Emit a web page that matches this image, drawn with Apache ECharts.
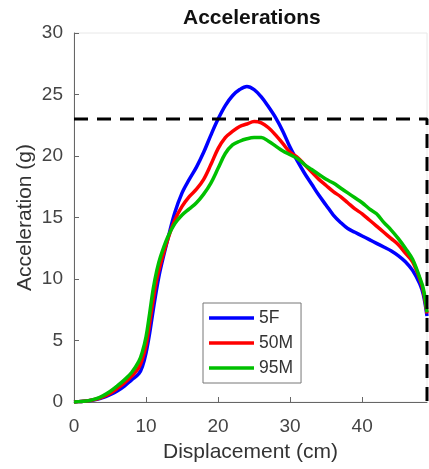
<!DOCTYPE html>
<html>
<head>
<meta charset="utf-8">
<script src="https://cdn.jsdelivr.net/npm/echarts@6/dist/echarts.min.js"></script>
<style>html,body{margin:0;padding:0;background:#fff;}#chart{width:429px;height:469px;}</style>
</head>
<body>
<div id="chart"></div>
<script>
// Displacement samples (cm)
var displacement = [0,1,2,3,4,5,6,7,8,9,9.5,10,10.5,11,11.5,12,13,14,15,16,17,18,19,20,21,22,23,24,25,26,27,28,29,30,31,32,33,34,35,36,37,38,39,40,41,42,43,44,45,46,47,48,48.5,49];
// Accelerations (g)
var accel5F  = [0,0.05,0.1,0.2,0.35,0.6,0.9,1.3,1.8,2.3,2.9,4.0,5.6,7.5,9.3,10.8,13.2,15.4,17.0,18.1,19.1,20.3,21.7,23.0,24.1,24.9,25.4,25.65,25.4,24.8,24.0,23.1,22.0,20.7,19.6,18.6,17.7,16.8,16.0,15.2,14.6,14.1,13.8,13.5,13.2,12.9,12.6,12.3,11.9,11.4,10.7,9.6,8.7,7.0];
var accel50M = [0,0.05,0.1,0.22,0.42,0.7,1.1,1.55,2.1,2.8,3.5,4.6,6.4,8.3,10.0,11.2,13.2,14.8,15.9,16.7,17.3,18.1,19.3,20.6,21.5,22.0,22.4,22.6,22.8,22.7,22.3,21.7,21.0,20.3,19.9,19.3,18.7,18.1,17.6,17.1,16.7,16.2,15.7,15.3,14.8,14.3,13.8,13.3,12.8,12.1,11.4,10.0,9.0,7.2];
var accel95M = [0,0.05,0.1,0.25,0.5,0.85,1.3,1.8,2.4,3.3,4.1,5.3,7.2,9.2,10.7,11.8,13.4,14.5,15.2,15.7,16.2,16.9,17.8,19.0,20.2,20.9,21.2,21.4,21.5,21.5,21.2,20.8,20.4,20.1,19.8,19.3,18.9,18.5,18.1,17.8,17.4,17.0,16.6,16.2,15.7,15.3,14.6,14.0,13.3,12.5,11.6,10.1,9.2,7.3];
var seriesNames = ['5F', '50M', '95M'];
// Limit corridor (dashed): displacement / acceleration
var limitX = [0, 49, 49];
var limitY = [23, 23, 0];
var xTicks = [0, 10, 20, 30, 40];
var yTicks = [0, 5, 10, 15, 20, 25, 30];

function pairs(xs, ys) { return xs.map(function (x, i) { return [x, ys[i]]; }); }

var FONT = "'Liberation Sans', Arial, Helvetica, sans-serif";
var axisColor = '#666';
var labelColor = '#444';

var chart = echarts.init(document.getElementById('chart'), null, {renderer: 'canvas'});
var colors = ['#0000ff', '#ff0000', '#00c000'];
var dataSets = [accel5F, accel50M, accel95M];

var series = dataSets.map(function (ys, i) {
  return {
    name: seriesNames[i], type: 'line', data: pairs(displacement, ys),
    showSymbol: false, symbol: 'none', smooth: 0.35,
    lineStyle: {color: colors[i], width: 3.5}, itemStyle: {color: colors[i]},
    animation: false, clip: false
  };
});
series.push({
  name: 'limit', type: 'line', data: pairs(limitX, limitY), symbol: 'none',
  lineStyle: {color: '#000', width: 3, type: [14, 9]}, animation: false, clip: false, z: 5
});

chart.setOption({
  animation: false,
  textStyle: {fontFamily: FONT},
  title: {
    text: 'Accelerations', left: 183, top: 8, padding: 0,
    textStyle: {fontFamily: FONT, fontSize: 21, fontWeight: 'bold', color: '#111'}
  },
  legend: {
    data: seriesNames, left: 203, top: 303, orient: 'vertical', icon: 'rect',
    itemWidth: 45, itemHeight: 3.5, itemGap: 7, padding: [6, 8, 6, 6],
    borderColor: '#777', borderWidth: 1, backgroundColor: '#fff',
    textStyle: {fontFamily: FONT, fontSize: 17.5, color: '#333'}
  },
  grid: {left: 74, right: 2, top: 33, bottom: 67, show: true, borderColor: '#e8e8e8', borderWidth: 1, backgroundColor: 'transparent'},
  xAxis: {
    type: 'value', min: 0, max: 49, interval: 10,
    name: 'Displacement (cm)', nameLocation: 'middle', nameGap: 40, nameMoveOverlap: false,
    nameTextStyle: {fontFamily: FONT, fontSize: 21, color: '#333'},
    axisLine: {show: true, lineStyle: {color: axisColor, width: 1}},
    axisTick: {show: true, inside: true, length: 5, lineStyle: {color: axisColor}},
    axisLabel: {fontFamily: FONT, fontSize: 19, color: labelColor, margin: 15, showMaxLabel: false,
      formatter: function (v) { return xTicks.indexOf(v) >= 0 ? String(v) : ''; }},
    splitLine: {show: false}
  },
  yAxis: {
    type: 'value', min: 0, max: 30, interval: 5,
    name: 'Acceleration (g)', nameLocation: 'middle', nameGap: 38, nameMoveOverlap: false,
    nameTextStyle: {fontFamily: FONT, fontSize: 21, color: '#333'},
    axisLine: {show: true, lineStyle: {color: axisColor, width: 1}},
    axisTick: {show: true, inside: true, length: 5, lineStyle: {color: axisColor}},
    axisLabel: {fontFamily: FONT, fontSize: 19, color: labelColor, margin: 11,
      formatter: function (v) { return yTicks.indexOf(v) >= 0 ? String(v) : ''; }},
    splitLine: {show: false}
  },
  series: series
});
</script>
</body>
</html>
